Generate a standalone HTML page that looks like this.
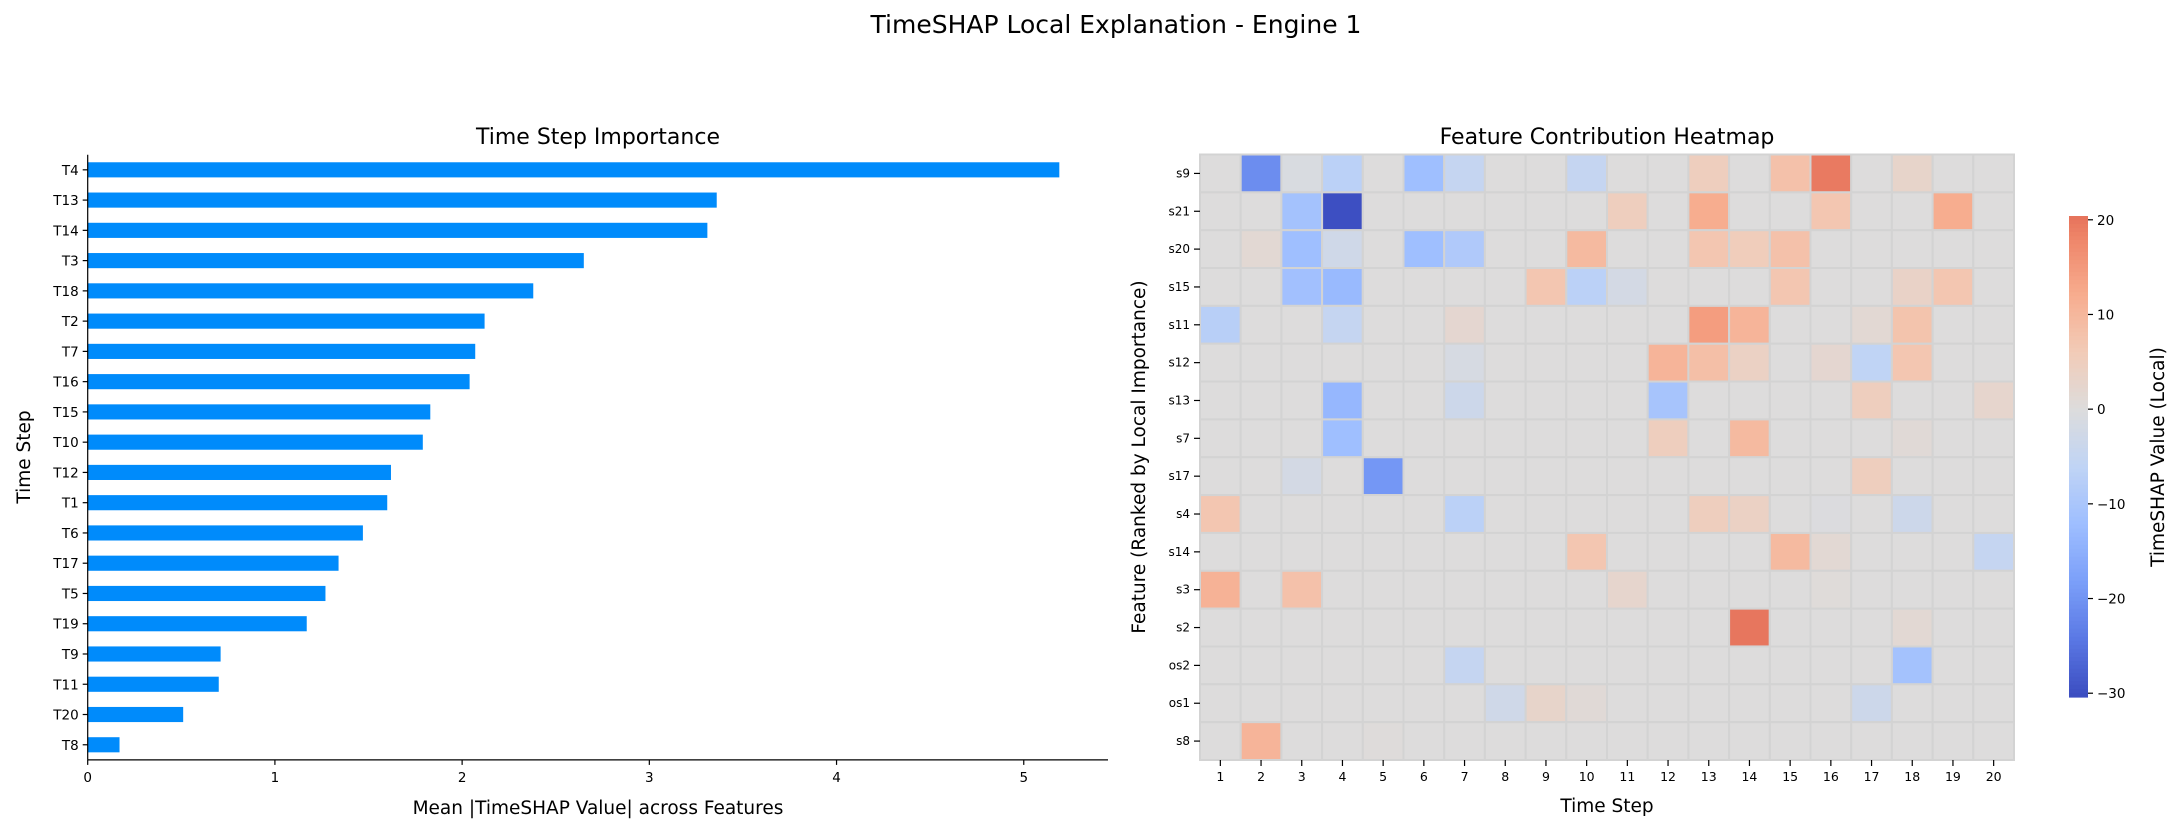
<!DOCTYPE html>
<html><head><meta charset="utf-8"><style>
html,body{margin:0;padding:0;background:#fff;}
svg{display:block;font-family:"DejaVu Sans","Liberation Sans",sans-serif;}
</style></head><body>
<svg id="fig" width="2183" height="832" viewBox="0 0 2183 832" xmlns="http://www.w3.org/2000/svg">
<rect width="2183" height="832" fill="#fff"/>
<text x="1116" y="33" font-size="25" text-anchor="middle">TimeSHAP Local Explanation - Engine 1</text>
<g id="bar"></g>
<g id="heat"></g>
</svg>
<script>
const barLabels = ["T4","T13","T14","T3","T18","T2","T7","T16","T15","T10","T12","T1","T6","T17","T5","T19","T9","T11","T20","T8"];
const barValues = [5.19,3.36,3.31,2.65,2.38,2.12,2.07,2.04,1.83,1.79,1.62,1.60,1.47,1.34,1.27,1.17,0.71,0.70,0.51,0.17];
const barTicks = [0,1,2,3,4,5];

const heatRows = ["s9","s21","s20","s15","s11","s12","s13","s7","s17","s4","s14","s3","s2","os2","os1","s8"];
const heatCols = ["1","2","3","4","5","6","7","8","9","10","11","12","13","14","15","16","17","18","19","20"];
const heatValues = [
 [0,-21,-1,-7,0,-12,-5,0,0,-5,0,0,5,0,8,19.5,0,3,0,0],
 [0,0,-11,-30,0,0,0,0,0,0,5,0,12,0,0,7,0,0,12,0],
 [0,1.5,-12,-3,0,-12,-9,0,0,9.5,0,0,7,5.5,8,0,0,0,0,0],
 [0,0,-11.5,-13,0,0,0,0,7,-7,-2,0,0,0,7,0,0,3.5,7,0],
 [-7.5,0,0,-5,0,0,2,0,0,0,0,0,14.5,10.5,0,0,1.5,7.5,0,0],
 [0,0,0,0,0,0,-1.5,0,0,0,0,10.5,8.5,4,0,2,-6,7,0,0],
 [0,0,0,-13.5,0,0,-3.5,0,0,0,0,-10.5,0,0,0,0,5,0,0,2.5],
 [0,0,0,-12,0,0,0,0,0,0,0,5,0,9.5,0,0,0,1,0,0],
 [0,0,-2,0,-19.5,0,0,0,0,0,0,0,0,0,0,0,5,0,0,0],
 [7,0,0,0,0,0,-7,0,0,0,0,0,5,4,0,-0.5,0,-3.5,0,0],
 [0,0,0,0,0,0,0,0,0,7,0,0,0,0,9.5,1.5,0,0,0,-5],
 [11,0,8,0,0,0,0,0,0,0,2.5,0,0,0,0,0.5,0,0,0,0],
 [0,0,0,0,0,0,0,0,0,0,0,0,0,20,0,0,0,1.5,0,0],
 [0,0,0,0,0,0,-5,0,0,0,0,0,0,0,0,0,0,-11,0,0],
 [0,0,0,0,0,0,0,-3,3,1,0,0,0,0,0,0,-3.5,0,0,0],
 [0,10.5,0,0,0.3,0,0,0,0,0,0,0,0,0,0,0,0,0,0,0]
];
const cbarTicks = [20,10,0,-10,-20,-30];

const NS="http://www.w3.org/2000/svg";
function mk(parent,tag,attrs,text){const e=document.createElementNS(NS,tag);for(const k in attrs)e.setAttribute(k,attrs[k]);if(text!==undefined)e.textContent=text;parent.appendChild(e);return e;}

// ---------- bar chart ----------
const bg=document.getElementById('bar');
const bx0=87.7, bx1=1108, byTop=154.7, byBot=759.9;
const xmax=5.45;
const xs=v=>bx0+v/xmax*(bx1-bx0);
const step=(byBot-byTop)/barLabels.length;
const yc=i=>byTop+step*(i+0.5);
barValues.forEach((v,i)=>{
  const r=mk(bg,'rect',{x:xs(0),y:yc(i)-step*0.25,width:xs(v)-xs(0),height:step*0.5,fill:'#008bfb'});
  
  
  mk(bg,'line',{x1:bx0-5,x2:bx0,y1:yc(i),y2:yc(i),stroke:'#000','stroke-width':1.2});
  const t=mk(bg,'text',{x:bx0-9,y:yc(i)+5,'font-size':13.5,'text-anchor':'end'},barLabels[i]);
  
  
});
barTicks.forEach(v=>{
  mk(bg,'line',{x1:xs(v),x2:xs(v),y1:byBot,y2:byBot+5,stroke:'#000','stroke-width':1.2});
  const t=mk(bg,'text',{x:xs(v),y:byBot+22,'font-size':13.5,'text-anchor':'middle'},String(v));
  
  
});
mk(bg,'line',{x1:bx0,x2:bx0,y1:byTop,y2:byBot,stroke:'#000','stroke-width':1.2});
mk(bg,'line',{x1:bx0,x2:bx1,y1:byBot,y2:byBot,stroke:'#000','stroke-width':1.2});
let t1=mk(bg,'text',{x:598,y:144,'font-size':22,'text-anchor':'middle'},'Time Step Importance');


let t2=mk(bg,'text',{x:598,y:814,'font-size':18.5,'text-anchor':'middle'},'Mean |TimeSHAP Value| across Features');


let t3=mk(bg,'text',{x:0,y:0,'font-size':18.5,'text-anchor':'middle',transform:'translate(30,457) rotate(-90)'},'Time Step');



// ---------- heatmap ----------
const cw=[[59,76,192],[90,120,228],[123,159,249],[158,190,255],[192,212,245],[221,220,220],[242,203,183],[247,172,142],[238,132,104],[214,82,68],[180,4,38]];
function coolwarm(t){t=Math.max(0,Math.min(1,t));const p=t*10,i=Math.min(9,Math.floor(p)),f=p-i;const a=cw[i],b=cw[i+1];return 'rgb('+a.map((c,k)=>Math.round(c+(b[k]-c)*f)).join(',')+')';}
const half=30.4;
const colorOf=v=>coolwarm((v+half)/(2*half));
const hg=document.getElementById('heat');
const hx0=1200, hx1=2014, hy0=154.5, hy1=760;
const cwid=(hx1-hx0)/heatCols.length, chei=(hy1-hy0)/heatRows.length;
heatValues.forEach((row,r)=>{
  row.forEach((v,c)=>{
    const e=mk(hg,'rect',{x:hx0+c*cwid,y:hy0+r*chei,width:cwid,height:chei,fill:colorOf(v),stroke:'#d3d3d3','stroke-width':2});
    
    
  });
});
heatRows.forEach((n,r)=>{
  const y=hy0+(r+0.5)*chei;
  mk(hg,'line',{x1:hx0-6,x2:hx0,y1:y,y2:y,stroke:'#000','stroke-width':1.2});
  const t=mk(hg,'text',{x:hx0-10,y:y+4,'font-size':12,'text-anchor':'end'},n);
  
  
});
heatCols.forEach((n,c)=>{
  const x=hx0+(c+0.5)*cwid;
  mk(hg,'line',{x1:x,x2:x,y1:hy1,y2:hy1+6,stroke:'#000','stroke-width':1.2});
  const t=mk(hg,'text',{x:x,y:hy1+21,'font-size':12.5,'text-anchor':'middle'},n);
  
  
});
let h1=mk(hg,'text',{x:1607,y:144,'font-size':22,'text-anchor':'middle'},'Feature Contribution Heatmap');


let h2=mk(hg,'text',{x:1607,y:812,'font-size':18.5,'text-anchor':'middle'},'Time Step');


let h3=mk(hg,'text',{x:0,y:0,'font-size':18.5,'text-anchor':'middle',transform:'translate(1145,457) rotate(-90)'},'Feature (Ranked by Local Importance)');



// colorbar
const cbx=2069, cbw=19, vmax=20.4, vmin=-30.4, cbTop=216, cbBot=697;
const cy=v=>cbTop+(vmax-v)/(vmax-vmin)*(cbBot-cbTop);
const cbG=mk(hg,'g',{});


const N=120;
for(let i=0;i<N;i++){
  const v0=vmax-(vmax-vmin)*i/N, v1=vmax-(vmax-vmin)*(i+1)/N;
  mk(cbG,'rect',{x:cbx,y:cy(v0),width:cbw,height:cy(v1)-cy(v0)+0.6,fill:colorOf((v0+v1)/2)});
}
cbarTicks.forEach(v=>{
  mk(cbG,'line',{x1:cbx+cbw,x2:cbx+cbw+5,y1:cy(v),y2:cy(v),stroke:'#000','stroke-width':1.2});
  const t=mk(cbG,'text',{x:cbx+cbw+9,y:cy(v)+5,'font-size':13.5},v<0?'\u2212'+(-v):String(v));
  
  
});
let c1=mk(cbG,'text',{x:0,y:0,'font-size':18.5,'text-anchor':'middle',transform:'translate(2164,457) rotate(-90)'},'TimeSHAP Value (Local)');


</script>
</body></html>
